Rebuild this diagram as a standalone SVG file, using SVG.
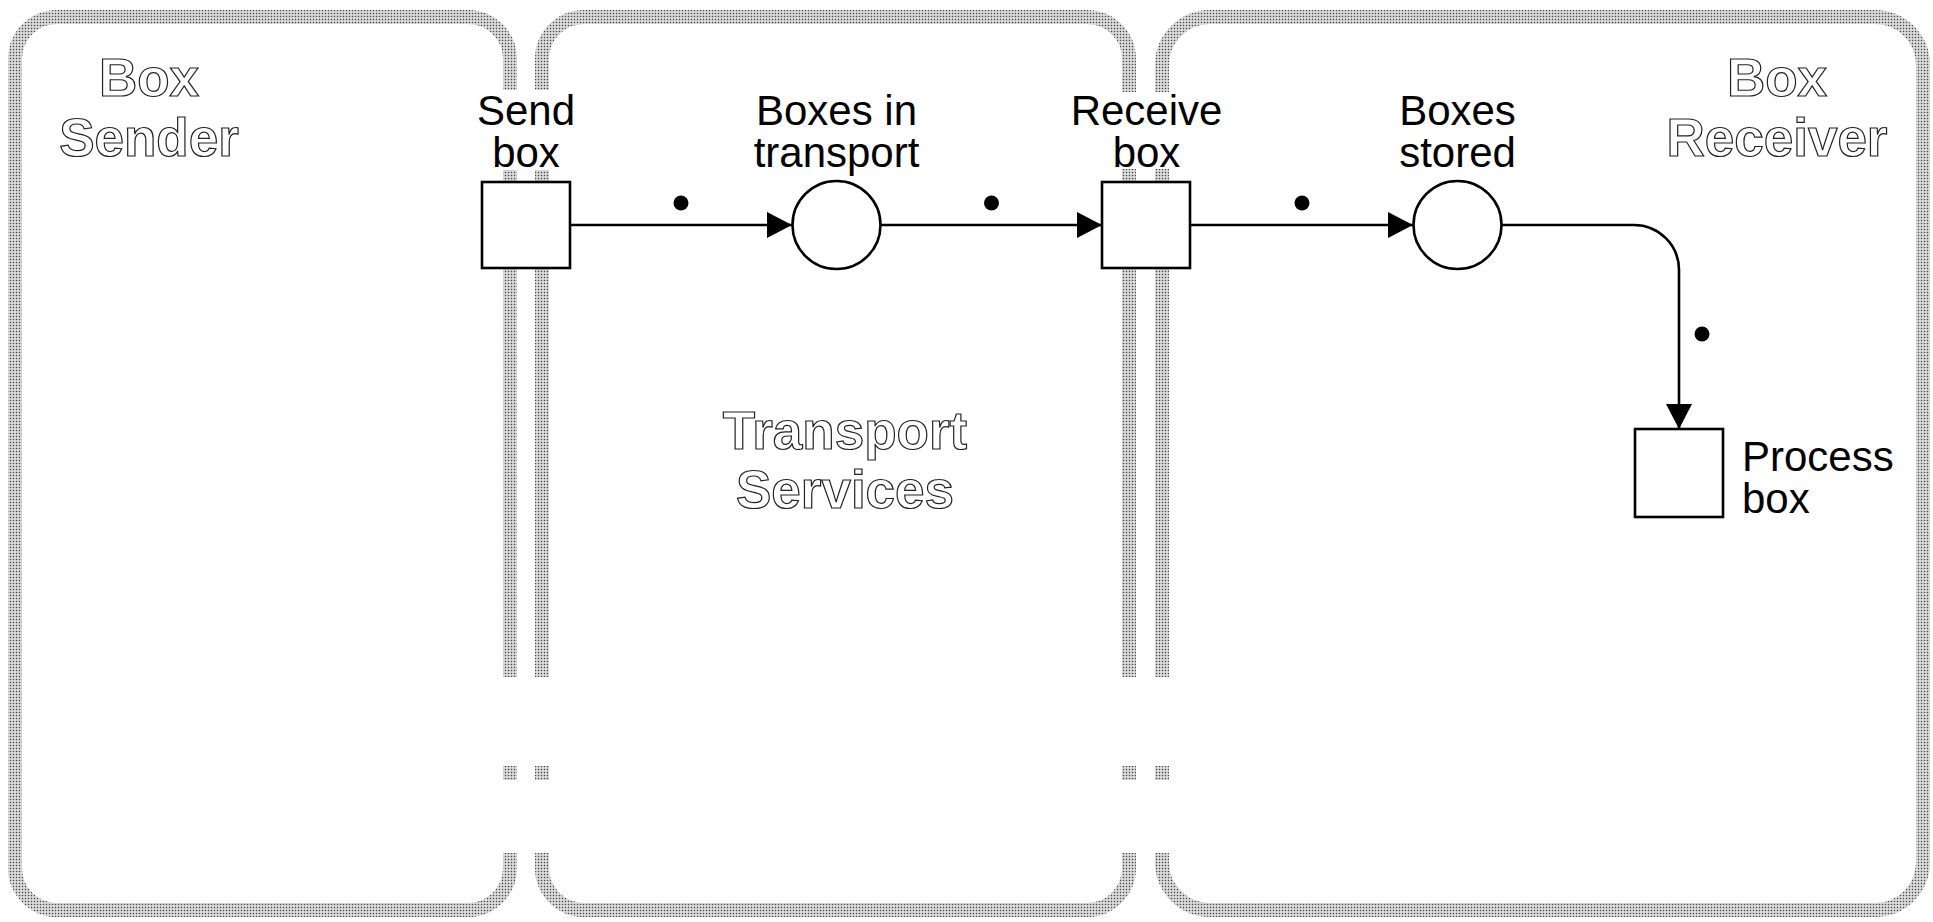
<svg xmlns="http://www.w3.org/2000/svg" width="1933" height="922" viewBox="0 0 1933 922">
  <defs>
    <!-- fine dot screen used for the swimlane borders -->
    <pattern id="dots" width="3" height="3" patternUnits="userSpaceOnUse">
      <rect width="3" height="3" fill="#e0e0e0"/>
      <rect x="0.8" y="0.8" width="1.4" height="1.4" fill="#444"/>
    </pattern>
    <marker id="arrow" markerUnits="userSpaceOnUse" markerWidth="26" markerHeight="26" refX="25" refY="13" orient="auto">
      <path d="M0,0 L25,13 L0,26 Z" fill="#000"/>
    </marker>
    <style>
      .lane { fill: #fff; stroke: url(#dots); stroke-width: 14; }
      .gap { fill: #fff; }
      .lane-title { font-family: "Liberation Sans", Arial, sans-serif; font-size: 53px; font-weight: bold; fill: #fff; stroke: #222; stroke-width: 1.2; text-anchor: middle; }
      .label { font-family: "Liberation Sans", Arial, sans-serif; font-size: 42px; fill: #000; text-anchor: middle; }
      .label-left { text-anchor: start; }
      .shape { fill: #fff; stroke: #000; stroke-width: 2.6; }
      .wire { fill: none; stroke: #000; stroke-width: 2.6; marker-end: url(#arrow); }
      .token { fill: #000; }
    </style>
  </defs>

  <rect width="1933" height="922" fill="#fff"/>

  <!-- swimlanes -->
  <g id="lane-sender">
    <rect class="lane" x="15" y="17" width="495" height="893" rx="42" ry="42"/>
    <text class="lane-title" x="149" y="96">Box</text>
    <text class="lane-title" x="149" y="156">Sender</text>
  </g>
  <g id="lane-transport">
    <rect class="lane" x="542" y="17" width="587" height="893" rx="42" ry="42"/>
    <text class="lane-title" x="845" y="449">Transport</text>
    <text class="lane-title" x="845" y="508">Services</text>
  </g>
  <g id="lane-receiver">
    <rect class="lane" x="1162" y="17" width="761" height="893" rx="48" ry="48"/>
    <text class="lane-title" x="1777" y="96">Box</text>
    <text class="lane-title" x="1777" y="156">Receiver</text>
  </g>

  <!-- breaks in the inner lane borders -->
  <g id="border-breaks">
    <rect class="gap" x="498" y="677" width="56" height="89"/>
    <rect class="gap" x="498" y="780" width="56" height="73"/>
    <rect class="gap" x="1120" y="677" width="54" height="89"/>
    <rect class="gap" x="1120" y="780" width="54" height="73"/>
  </g>

  <!-- connectors -->
  <g id="connectors">
    <path class="wire" d="M571,225 H792"/>
    <path class="wire" d="M881,225 H1102"/>
    <path class="wire" d="M1191,225 H1413"/>
    <path class="wire" d="M1502,225 H1634 A45,45 0 0 1 1679,270 V429"/>
    <circle class="token" cx="681" cy="203" r="7.5"/>
    <circle class="token" cx="991.5" cy="203" r="7.5"/>
    <circle class="token" cx="1302" cy="203" r="7.5"/>
    <circle class="token" cx="1702" cy="334" r="7.5"/>
  </g>

  <!-- nodes -->
  <g id="send-box">
    <rect class="gap" x="476" y="90" width="100" height="80"/>
    <text class="label" x="526" y="125">Send</text>
    <text class="label" x="526" y="167">box</text>
    <rect class="shape" x="482" y="182" width="88" height="86"/>
  </g>
  <g id="boxes-in-transport">
    <text class="label" x="836.5" y="125">Boxes in</text>
    <text class="label" x="836.5" y="167">transport</text>
    <circle class="shape" cx="836.5" cy="225" r="44"/>
  </g>
  <g id="receive-box">
    <rect class="gap" x="1070" y="92" width="154" height="77"/>
    <text class="label" x="1146.5" y="125">Receive</text>
    <text class="label" x="1146.5" y="167">box</text>
    <rect class="shape" x="1102" y="182" width="88" height="86"/>
  </g>
  <g id="boxes-stored">
    <text class="label" x="1457.5" y="125">Boxes</text>
    <text class="label" x="1457.5" y="167">stored</text>
    <circle class="shape" cx="1457.5" cy="225" r="44"/>
  </g>
  <g id="process-box">
    <rect class="shape" x="1635" y="429" width="88" height="88"/>
    <text class="label label-left" x="1742" y="471">Process</text>
    <text class="label label-left" x="1742" y="513">box</text>
  </g>
</svg>
